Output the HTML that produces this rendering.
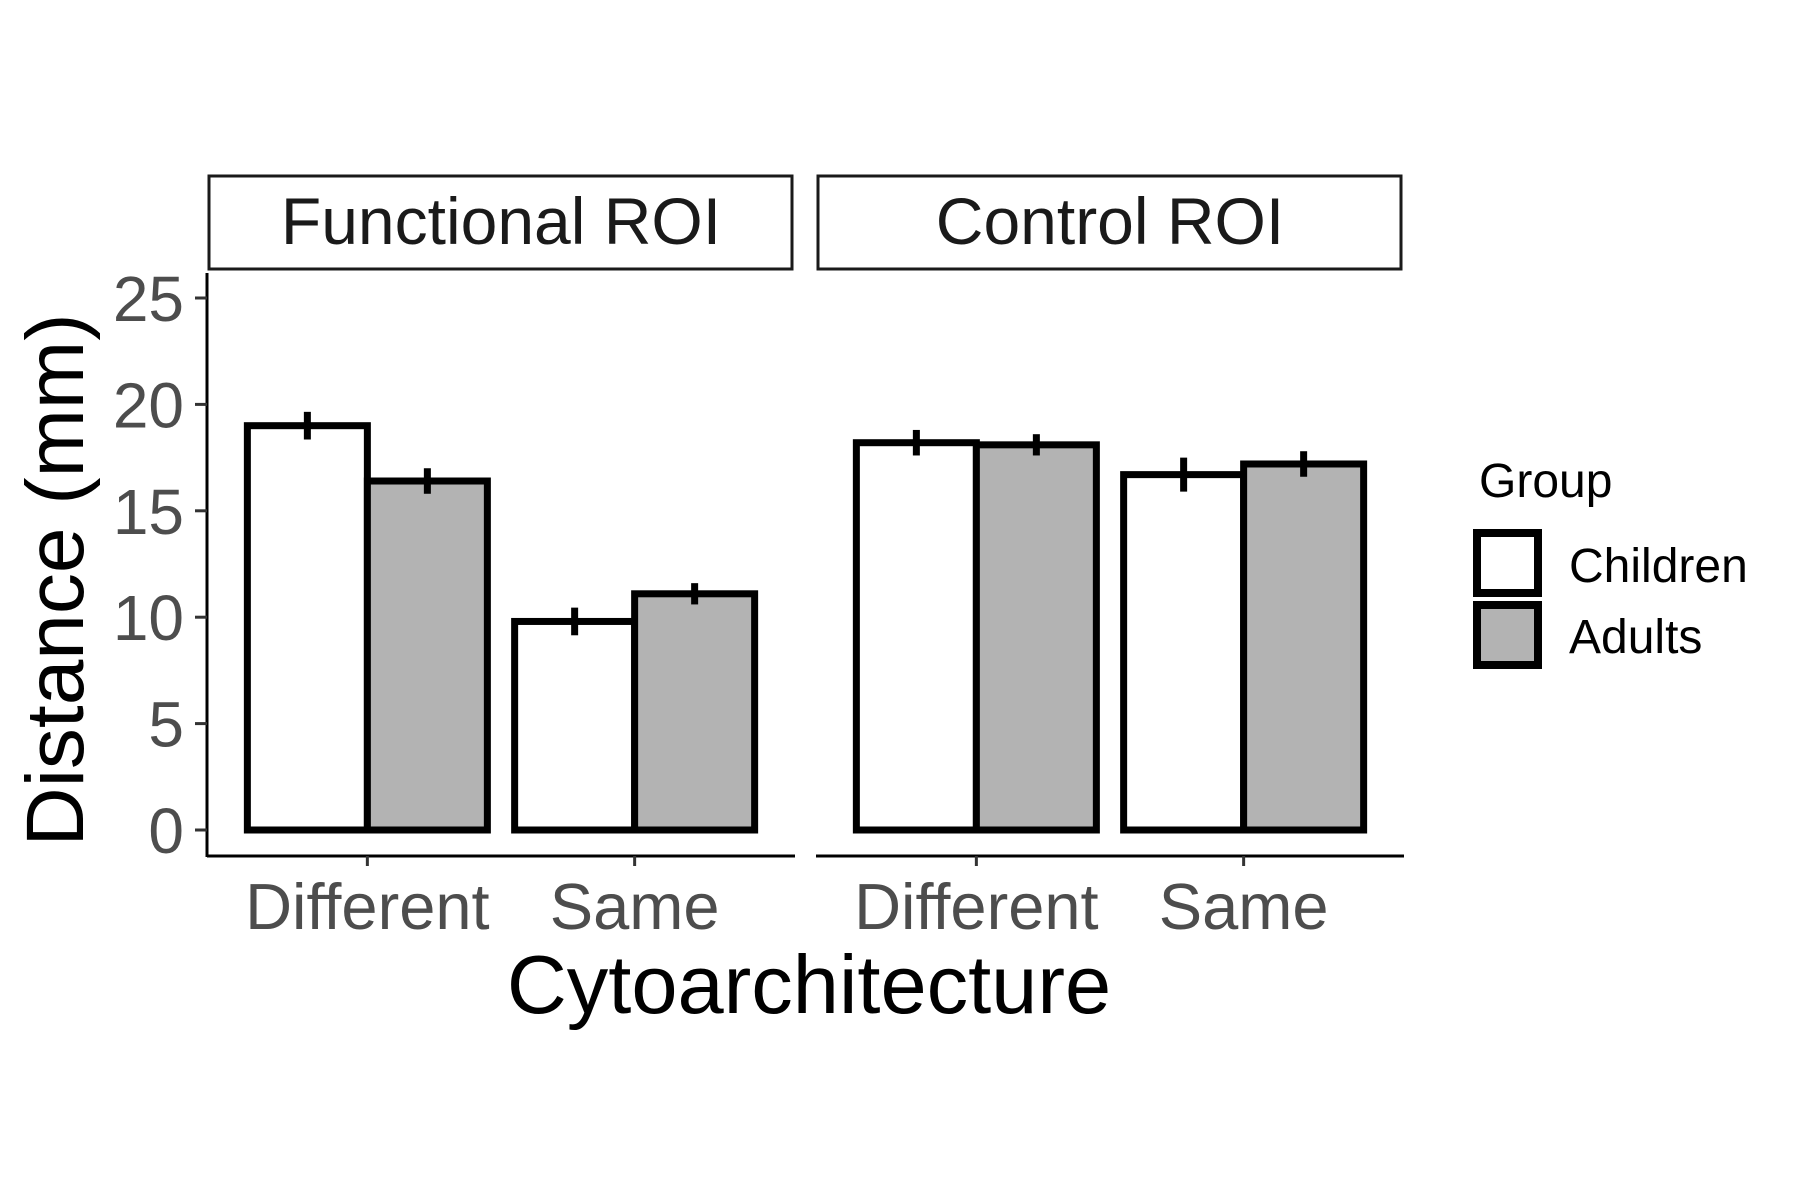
<!DOCTYPE html>
<html><head><meta charset="utf-8"><style>
html,body{margin:0;padding:0;background:#fff;}
svg{display:block;font-family:"Liberation Sans",Arial,sans-serif;}
</style></head><body>
<svg id="chart" width="1800" height="1200" viewBox="0 0 1800 1200">
<rect x="0" y="0" width="1800" height="1200" fill="#fff"/>
<g id="strips"></g>
<g id="axes"></g>
<g id="bars"></g>
<text x="809" y="1013" font-size="83" text-anchor="middle" fill="#000">Cytoarchitecture</text>
<text transform="translate(83,580) rotate(-90)" font-size="82" text-anchor="middle" fill="#000">Distance (mm)</text>
<g>
<text x="1479" y="497" font-size="48" fill="#000">Group</text>
<rect x="1477" y="533" width="61" height="60" fill="#fff" stroke="#000" stroke-width="8"/>
<text x="1569" y="582" font-size="48" fill="#000">Children</text>
<rect x="1477" y="605" width="61" height="60" fill="#b3b3b3" stroke="#000" stroke-width="8"/>
<text x="1569" y="653" font-size="48" fill="#000">Adults</text>
</g>
</svg>
<script>
const panels = ["Functional ROI", "Control ROI"];
const categories = ["Different", "Same"];
const groups = ["Children", "Adults"];
const fills = ["#ffffff", "#b3b3b3"];
// values[panel][category]
const childrenMeans = [[19.0, 9.8], [18.2, 16.7]];
const adultsMeans = [[16.4, 11.1], [18.1, 17.2]];
const childrenErr = [[0.65, 0.65], [0.6, 0.8]];
const adultsErr = [[0.6, 0.5], [0.5, 0.6]];
const yTicks = [0, 5, 10, 15, 20, 25];

const NS = "http://www.w3.org/2000/svg";
function mk(tag, attrs, parent) {
  const e = document.createElementNS(NS, tag);
  for (const k in attrs) e.setAttribute(k, attrs[k]);
  parent.appendChild(e);
  return e;
}
const panelX = [[207, 795], [816, 1404]];
const y0 = 830, pxPerUnit = 21.28;
function yScale(v) { return y0 - v * pxPerUnit; }
function xScale(p, ci) {
  const [a, b] = panelX[p];
  const step = (b - a) / (categories.length + 0.2);
  return a + step * (0.6 + ci);
}
const strips = document.getElementById('strips');
const axes = document.getElementById('axes');
const bars = document.getElementById('bars');

panels.forEach((name, p) => {
  const [a, b] = panelX[p];
  const r = mk('rect', {x: a + 2, y: 176, width: b - a - 5, height: 93, fill: '#fff', stroke: '#1a1a1a', 'stroke-width': 3}, strips);
  
  
  const t = mk('text', {x: (a + b) / 2, y: 244, 'font-size': 66, 'text-anchor': 'middle', fill: '#1a1a1a'}, strips);
  t.textContent = name;
  
  
  const xl = mk('line', {x1: a, x2: b, y1: 856, y2: 856, stroke: '#000', 'stroke-width': 3}, axes);
  
  
  categories.forEach((c, ci) => {
    const cx = xScale(p, ci);
    const tk = mk('line', {x1: cx, x2: cx, y1: 856, y2: 866, stroke: '#333', 'stroke-width': 3}, axes);
    
    
    const tl = mk('text', {x: cx, y: 929, 'font-size': 65, 'text-anchor': 'middle', fill: '#4d4d4d'}, axes);
    tl.textContent = c;
    
    
    const bw = 120;
    [childrenMeans, adultsMeans].forEach((series, gi) => {
      const v = series[p][ci];
      const x = cx - bw + gi * bw;
      const br = mk('rect', {x: x, y: yScale(v), width: bw, height: y0 - yScale(v), fill: fills[gi], stroke: '#000', 'stroke-width': 7}, bars);
      
      
      const e = [childrenErr, adultsErr][gi][p][ci];
      const el = mk('line', {x1: x + bw / 2, x2: x + bw / 2, y1: yScale(v - e), y2: yScale(v + e), stroke: '#000', 'stroke-width': 7}, bars);
      
      
    });
  });
});
const ya = mk('line', {x1: 207, x2: 207, y1: 273, y2: 857, stroke: '#000', 'stroke-width': 3}, axes);


yTicks.forEach(v => {
  const y = yScale(v);
  const tk = mk('line', {x1: 195, x2: 207, y1: y, y2: y, stroke: '#333', 'stroke-width': 3}, axes);
  
  
  const tl = mk('text', {x: 184, y: y + 23, 'font-size': 64, 'text-anchor': 'end', fill: '#4d4d4d'}, axes);
  tl.textContent = v;
  
  
});
</script>
</body></html>
